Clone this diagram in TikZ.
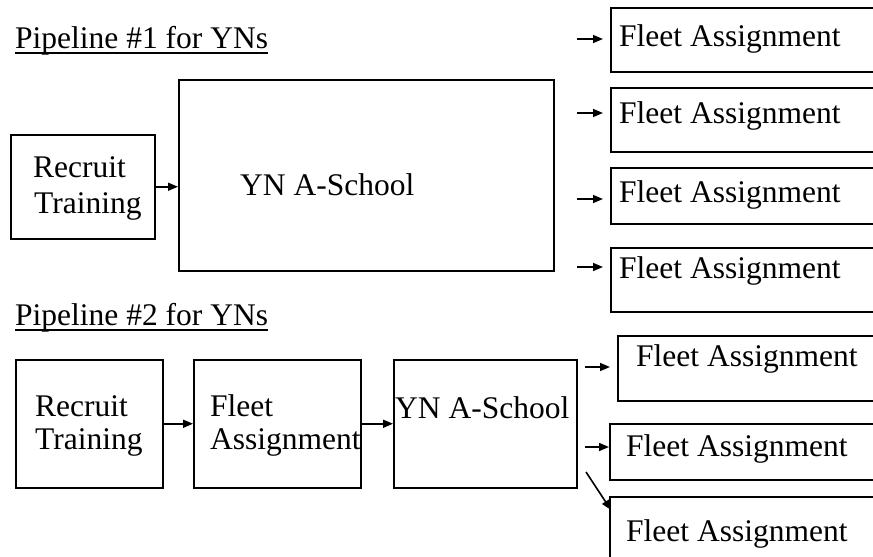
\documentclass[tikz,border=0pt]{standalone}
\usepackage{fontspec}
\setmainfont{Liberation Serif}
\usetikzlibrary{arrows.meta}
\tikzset{
  box/.style={draw,line width=1.5pt,rectangle,inner sep=0pt,anchor=north west},
  txt/.style={inner sep=0pt,anchor=base west,font=\fontsize{31.5}{36}\selectfont},
  arr/.style={line width=1.6pt,-{Triangle[length=10pt,width=8pt]}},
  uline/.style={line width=1.8pt}
}
\begin{document}
\begin{tikzpicture}[x=1pt,y=-1pt]
        \clip (0,0) rectangle (873,557);
        \fill[white] (0,0) rectangle (873,557);

        \node[txt] (title1) at (15,48) {Pipeline \#1 for YNs};
        \draw[uline] ([yshift=-5pt]title1.base west) -- ([yshift=-5pt]title1.base east);

        \node[box,minimum width=144pt,minimum height=104pt] (rt1) at (10,134) {};
        \node[txt] (rt1a) at (33,177) {Recruit};
        \node[txt] (rt1b) at (34,213) {Training};

        \node[box,minimum width=375pt,minimum height=191pt] (ayn1) at (178,79) {};
        \node[txt] (ayn1a) at (240,195) {YN A-School};

        \node[box,minimum width=300pt,minimum height=64pt] (fa1) at (610,7) {};
        \node[box,minimum width=300pt,minimum height=64pt] (fa2) at (610,87) {};
        \node[box,minimum width=300pt,minimum height=56pt] (fa3) at (610,167) {};
        \node[box,minimum width=300pt,minimum height=64pt] (fa4) at (610,247) {};

        \node[txt] (fa1a) at (619,46) {Fleet Assignment};
        \node[txt] (fa2a) at (619,123) {Fleet Assignment};
        \node[txt] (fa3a) at (619,202) {Fleet Assignment};
        \node[txt] (fa4a) at (619,278) {Fleet Assignment};

        \coordinate (s1) at (577,39);
        \coordinate (s2) at (577,113);
        \coordinate (s3) at (577,199);
        \coordinate (s4) at (577,267);

        \draw[arr] (rt1.east) -- (rt1.east -| ayn1.west);
        \draw[arr,shorten >=7pt] (s1) -- (s1 -| fa1.west);
        \draw[arr,shorten >=7pt] (s2) -- (s2 -| fa2.west);
        \draw[arr,shorten >=7pt] (s3) -- (s3 -| fa3.west);
        \draw[arr,shorten >=7pt] (s4) -- (s4 -| fa4.west);

        %second pipeline, same pieces again lower down
        \node[txt] (title2) at (15,325) {Pipeline \#2 for YNs};
        \draw[uline] ([yshift=-5pt]title2.base west) -- ([yshift=-5pt]title2.base east);

        \node[box,minimum width=147pt,minimum height=128pt] (rt2) at (15,359) {};
        \node[txt] (rt2a) at (35,416) {Recruit};
        \node[txt] (rt2b) at (35,449) {Training};

        \node[box,minimum width=167pt,minimum height=128pt] (fa5) at (193,359) {};
        \node[txt] (fa5a) at (210,416) {Fleet};
        \node[txt] (fa5b) at (210,449) {Assignment};

        \node[box,minimum width=183pt,minimum height=128pt] (ayn2) at (393,359) {};
        \node[txt] (ayn2a) at (395,418) {YN A-School};

        \node[box,minimum width=300pt,minimum height=65pt] (fb1) at (617,335) {};
        \node[box,minimum width=300pt,minimum height=56pt] (fb2) at (609,423) {};
        \node[box,minimum width=300pt,minimum height=80pt] (fb3) at (609,496) {};

        \node[txt] (fb1a) at (636,366) {Fleet Assignment};
        \node[txt] (fb2a) at (626,456) {Fleet Assignment};
        \node[txt] (fb3a) at (626,541) {Fleet Assignment};

        \coordinate (t1) at (585,367);
        \coordinate (t2) at (585,447);
        \coordinate (t3) at (586,472);

        \draw[arr] (rt2.east) -- (rt2.east -| fa5.west);
        \draw[arr] (fa5.east) -- (fa5.east -| ayn2.west);
        \draw[arr,shorten >=7pt] (t1) -- (t1 -| fb1.west);
        \draw[arr] (t2) -- (t2 -| fb2.west);
        \draw[arr] (t3) -- ([shift={(2,14)}]fb3.north west);

       \end{tikzpicture}
\end{document}
